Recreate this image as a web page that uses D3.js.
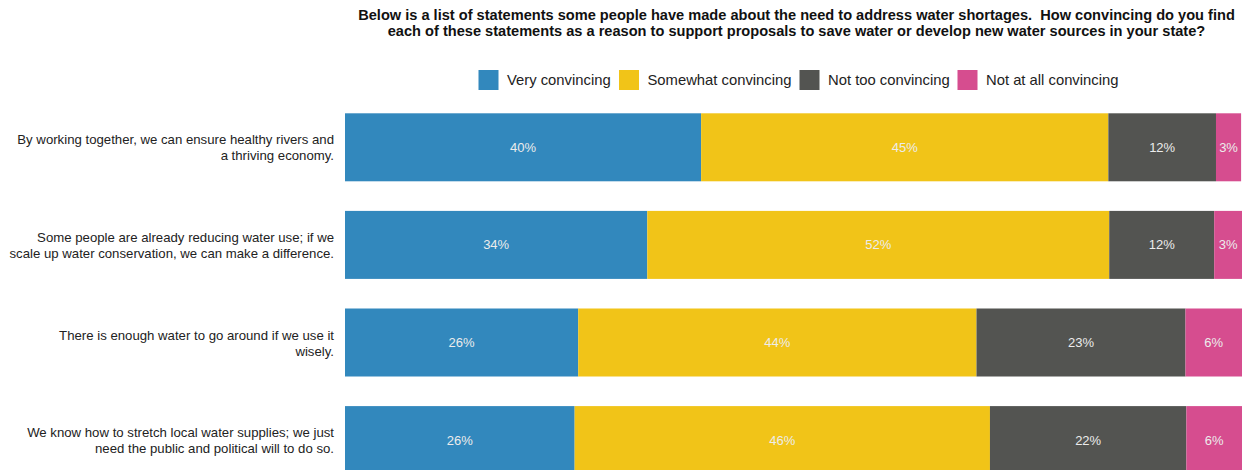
<!DOCTYPE html>
<html>
<head>
<meta charset="utf-8">
<script src="https://cdn.jsdelivr.net/npm/d3@7"></script>
<style>
  html, body { margin: 0; padding: 0; background: #ffffff; }
  svg { display: block; font-family: "Liberation Sans", Arial, sans-serif; }
  .title { white-space: pre; }
</style>
</head>
<body>
<svg id="chart" width="1242" height="470"></svg>
<script>
// ---- data ----
const titleLines = [
  "Below is a list of statements some people have made about the need to address water shortages.  How convincing do you find",
  "each of these statements as a reason to support proposals to save water or develop new water sources in your state?"
];
const categories = [
  ["By working together, we can ensure healthy rivers and", "a thriving economy."],
  ["Some people are already reducing water use; if we", "scale up water conservation, we can make a difference."],
  ["There is enough water to go around if we use it", "wisely."],
  ["We know how to stretch local water supplies; we just", "need the public and political will to do so."]
];
const seriesNames = ["Very convincing", "Somewhat convincing", "Not too convincing", "Not at all convincing"];
const veryConvincing     = [39.7, 33.7, 26.0, 25.6];
const somewhatConvincing = [45.4, 51.5, 44.4, 46.3];
const notTooConvincing   = [12.0, 11.7, 23.3, 21.9];
const notAtAllConvincing = [2.8, 3.1, 6.3, 6.2];
const colors = ["#3288bd", "#f1c418", "#535451", "#d64d8f"];

// ---- build table ----
const rows = categories.map((c, i) => ({
  key: i,
  [seriesNames[0]]: veryConvincing[i],
  [seriesNames[1]]: somewhatConvincing[i],
  [seriesNames[2]]: notTooConvincing[i],
  [seriesNames[3]]: notAtAllConvincing[i]
}));
const stacked = d3.stack().keys(seriesNames)(rows);

const svg = d3.select("#chart");

const x = d3.scaleLinear().domain([0, 100]).range([345, 1242]);
const y = d3.scaleBand().domain(d3.range(categories.length))
  .range([113.3, 474.1]).paddingInner(0.3033).paddingOuter(0);
const color = d3.scaleOrdinal().domain(seriesNames).range(colors);

// title
svg.append("g").selectAll("text").data(titleLines).join("text")
  .attr("class", "title")
  .attr("x", 796.5).attr("y", (d, i) => 20 + i * 16)
  .attr("text-anchor", "middle")
  .attr("font-size", 14.6).attr("font-weight", "bold").attr("fill", "#111")
  .text(d => d);

// legend
const legendX = [478.5, 619, 799.5, 957.5];
const lg = svg.append("g").selectAll("g").data(seriesNames).join("g")
  .attr("transform", (d, i) => `translate(${legendX[i]},70)`);
lg.append("rect").attr("width", 20).attr("height", 20).attr("fill", d => color(d));
lg.append("text").attr("x", 28.5).attr("y", 15.2).attr("font-size", 14.8).attr("fill", "#222").text(d => d);

// bars
const layer = svg.append("g").selectAll("g").data(stacked).join("g")
  .attr("fill", d => color(d.key));
layer.selectAll("rect").data(d => d).join("rect")
  .attr("x", d => x(d[0]))
  .attr("y", (d, i) => y(i))
  .attr("width", d => x(d[1]) - x(d[0]))
  .attr("height", y.bandwidth());

// value labels
const lbl = svg.append("g").selectAll("g").data(stacked).join("g");
lbl.selectAll("text").data(d => d.map(v => ({v, key: d.key}))).join("text")
  .attr("x", d => (x(d.v[0]) + x(d.v[1])) / 2)
  .attr("y", (d, i) => y(i) + y.bandwidth() / 2 + 4.5)
  .attr("text-anchor", "middle")
  .attr("font-size", 13).attr("fill", "#ececec")
  .text(d => Math.round(d.v[1] - d.v[0]) + "%");

// category labels
const cg = svg.append("g").selectAll("text").data(categories).join("text")
  .attr("text-anchor", "end")
  .attr("font-size", 13.2).attr("fill", "#222")
  .attr("transform", (d, i) => `translate(334,${y(i) + y.bandwidth() / 2})`);
cg.selectAll("tspan").data(d => d).join("tspan")
  .attr("x", 0)
  .attr("y", (d, i, n) => (i - (n.length - 1) / 2) * 16 + 5)
  .text(d => d);
</script>
</body>
</html>
